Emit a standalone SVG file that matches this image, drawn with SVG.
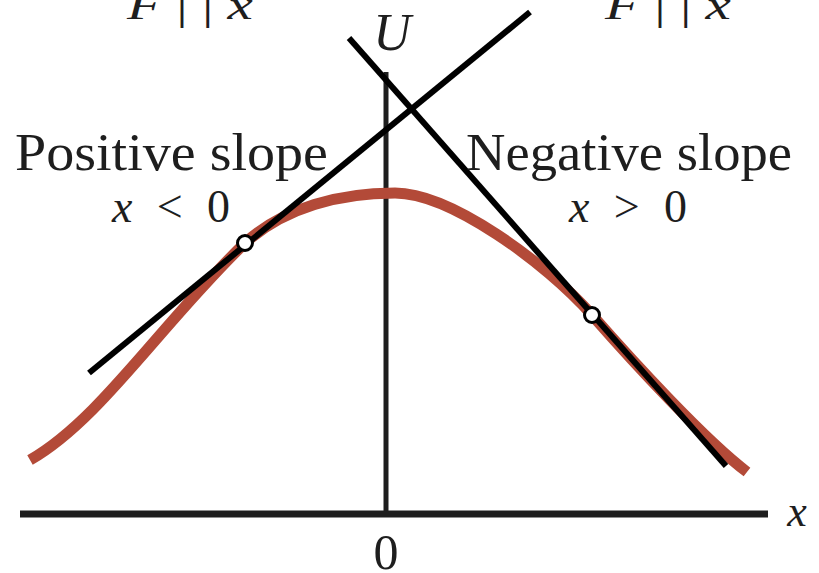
<svg xmlns="http://www.w3.org/2000/svg" width="819" height="573" viewBox="0 0 819 573">
<style>
.lbl{font-family:"Liberation Serif","DejaVu Serif",serif;fill:#1e1e1e}
.it{font-style:italic}
.axis{stroke:#1e1e1e;fill:none}
.tan{stroke:#000;stroke-width:6;fill:none}
.pt{fill:#fff;stroke:#000;stroke-width:3}
</style>
<rect width="819" height="573" fill="#fff"/>
<g id="top-labels">
<text class="lbl" x="127" y="19" font-size="40" textLength="126" lengthAdjust="spacingAndGlyphs"><tspan class="it">F</tspan> | | <tspan class="it">x</tspan></text>
<text class="lbl" x="605" y="19" font-size="40" textLength="126" lengthAdjust="spacingAndGlyphs"><tspan class="it">F</tspan> | | <tspan class="it">x</tspan></text>
</g>
<g id="axes">
<line class="axis" x1="386" y1="72" x2="386" y2="514" stroke-width="5"/>
<line class="axis" x1="20" y1="514" x2="768" y2="514" stroke-width="7"/>
<text class="lbl it" x="392" y="50" font-size="52" text-anchor="middle" fill="#3a3a3a">U</text>
<text class="lbl it" x="797" y="526" font-size="44" text-anchor="middle">x</text>
<text class="lbl" x="386" y="569" font-size="50" text-anchor="middle">0</text>
</g>
<g id="curve">
<path d="M30,460 C100,420 160,325 245,243 C285,207 340,193 395,193 C450,193 545,262 592,315 C635,364 705,440 747,472" fill="none" stroke="#B34A38" stroke-width="11"/>
</g>
<g id="tangents">
<line class="tan" x1="89" y1="373" x2="530" y2="12"/>
<line class="tan" x1="349" y1="38" x2="726" y2="466"/>
</g>
<g id="points">
<circle class="pt" cx="245" cy="243" r="7.5"/>
<circle class="pt" cx="592" cy="315" r="7.5"/>
</g>
<g id="positive-label">
<text class="lbl" x="15" y="170" font-size="53" textLength="313" lengthAdjust="spacingAndGlyphs">Positive slope</text>
<text class="lbl" x="112" y="222" font-size="46" textLength="118" lengthAdjust="spacing"><tspan class="it">x</tspan> &lt; 0</text>
</g>
<g id="negative-label">
<text class="lbl" x="466" y="170" font-size="53" textLength="326" lengthAdjust="spacingAndGlyphs">Negative slope</text>
<text class="lbl" x="569" y="222" font-size="46" textLength="118" lengthAdjust="spacing"><tspan class="it">x</tspan> &gt; 0</text>
</g>
</svg>
